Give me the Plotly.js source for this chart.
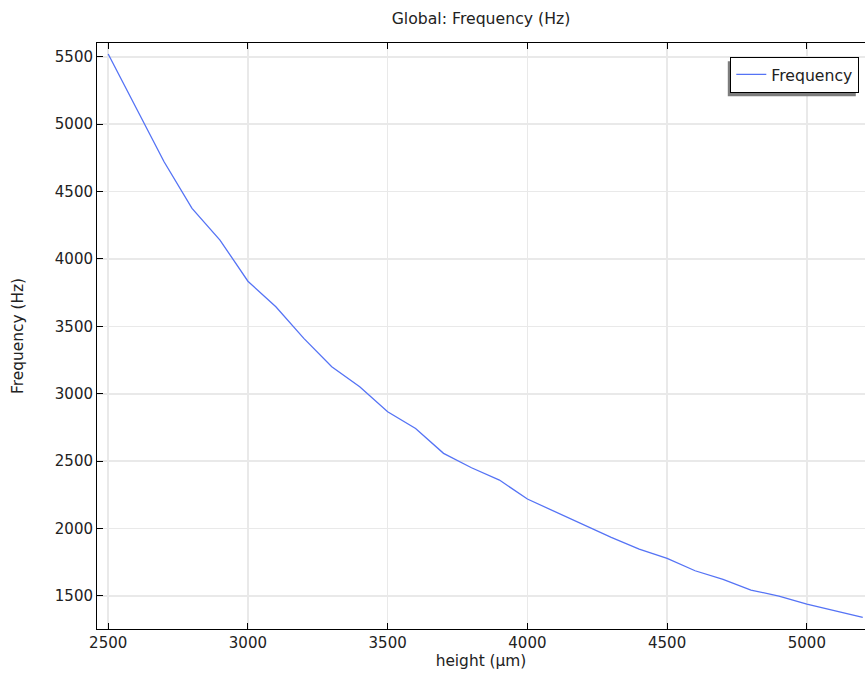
<!DOCTYPE html>
<html>
<head>
<meta charset="utf-8">
<script src="https://cdn.plot.ly/plotly-3.0.1.min.js"></script>
<style>
html,body{margin:0;padding:0;background:#fff;overflow:hidden;}
#chart{width:865px;height:677px;}
</style>
</head>
<body>
<div id="chart"></div>
<script>
const heights = [2500, 2600, 2700, 2800, 2900, 3000, 3100, 3200, 3300, 3400,
                 3500, 3600, 3700, 3800, 3900, 4000, 4100, 4200, 4300, 4400,
                 4500, 4600, 4700, 4800, 4900, 5000, 5100, 5200];
const frequency = [5520, 5115, 4721, 4375, 4140, 3835, 3645, 3411, 3200, 3052,
                   2867, 2743, 2558, 2451, 2360, 2219, 2125, 2034, 1935, 1848,
                   1779, 1687, 1623, 1544, 1499, 1440, 1388, 1341];
const xTicks = [2500, 3000, 3500, 4000, 4500, 5000];
const yTicks = [1500, 2000, 2500, 3000, 3500, 4000, 4500, 5000, 5500];
const seriesName = "Frequency";
const titleText = "Global: Frequency (Hz)";
const xTitle = "height (µm)";
const yTitle = "Frequency (Hz)";

const FONT = "DejaVu Sans, sans-serif";
const L = 97, T = 43, W = 865, H = 677, B = 48;
const plotW = W - L, plotH = H - T - B;

const legRight = 859.3, legTop = 56.7;
const lx = (legRight - L) / plotW;
const ly = (H - B - legTop) / plotH;

const trace = {
  x: heights,
  y: frequency,
  type: "scatter",
  mode: "lines",
  name: seriesName,
  line: {color: "rgb(85,115,245)", width: 1.3},
  hoverinfo: "x+y"
};

const layout = {
  width: W,
  height: H,
  margin: {l: L, r: 0, t: T, b: B, pad: 0},
  paper_bgcolor: "#ffffff",
  plot_bgcolor: "#ffffff",
  font: {family: FONT, size: 15, color: "#222"},
  title: {
    text: titleText,
    font: {family: FONT, size: 15.7, color: "#222"},
    x: 0.5, xref: "paper", xanchor: "center",
    y: 1 - 18.5 / H, yref: "container", yanchor: "middle"
  },
  xaxis: {
    range: [2460, 5208],
    tickvals: xTicks,
    ticktext: xTicks.map(String),
    ticks: "inside",
    ticklen: 6,
    tickcolor: "#000",
    tickwidth: 1,
    showline: true,
    linecolor: "#000",
    linewidth: 1,
    mirror: "ticks",
    showgrid: true,
    gridcolor: "rgb(233,233,233)",
    gridwidth: 1.5,
    zeroline: false,
    tickfont: {family: FONT, size: 15, color: "#222"},
    title: {text: xTitle, font: {family: FONT, size: 15.4, color: "#222"}, standoff: 4}
  },
  yaxis: {
    range: [1255, 5602],
    tickvals: yTicks,
    ticktext: yTicks.map(String),
    ticks: "inside",
    ticklen: 6,
    tickcolor: "#000",
    tickwidth: 1,
    showline: true,
    linecolor: "#000",
    linewidth: 1,
    showgrid: true,
    gridcolor: "rgb(233,233,233)",
    gridwidth: 1.5,
    zeroline: false,
    tickfont: {family: FONT, size: 15, color: "#222"},
    title: {text: yTitle, font: {family: FONT, size: 15.4, color: "#222"}, standoff: 27}
  },
  showlegend: true,
  legend: {
    x: lx, y: ly, xanchor: "right", yanchor: "top",
    bgcolor: "#ffffff",
    bordercolor: "#000",
    borderwidth: 1,
    font: {family: FONT, size: 15.7, color: "#222"},
    itemwidth: 30
  },
  shapes: []
};

Plotly.newPlot("chart", [trace], layout, {displayModeBar: false, staticPlot: true}).then(function (gd) {
  // place a drop shadow behind the legend box, offset left/down like the reference
  const bg = gd.querySelector(".legend .bg");
  const host = gd.getBoundingClientRect();
  if (!bg) return;
  const r = bg.getBoundingClientRect();
  const x0 = r.left - host.left - 3, x1 = r.right - host.left - 3;
  const yTop = r.top - host.top + 4, yBot = r.bottom - host.top + 4;
  const toPX = function (px) { return (px - L) / plotW; };
  const toPY = function (py) { return (H - B - py) / plotH; };
  return Plotly.relayout(gd, {
    shapes: [{
      type: "rect", xref: "paper", yref: "paper",
      x0: toPX(x0), x1: toPX(x1), y0: toPY(yBot), y1: toPY(yTop),
      fillcolor: "rgb(125,125,125)", line: {width: 0}, layer: "above"
    }]
  });
});
</script>
</body>
</html>
